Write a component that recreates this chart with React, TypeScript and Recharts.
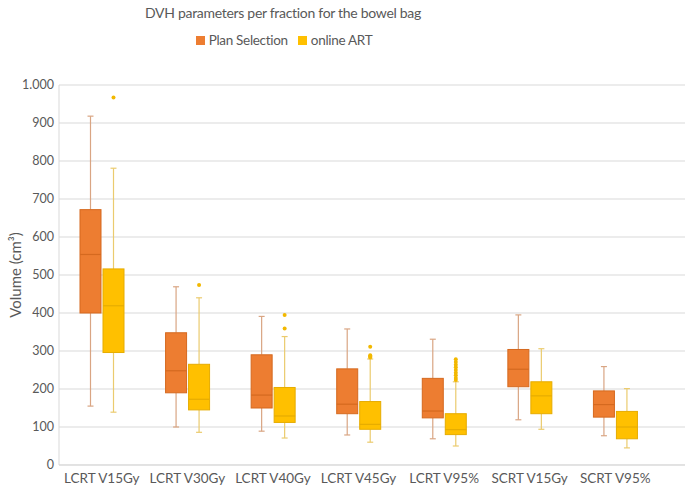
import { Bar, CartesianGrid, ComposedChart, Legend, XAxis, YAxis } from "recharts";

const categories = [
  "LCRT V15Gy",
  "LCRT V30Gy",
  "LCRT V40Gy",
  "LCRT V45Gy",
  "LCRT V95%",
  "SCRT V15Gy",
  "SCRT V95%",
];

// Plan Selection
const psMin = [155, 100, 89, 79, 69, 119, 77];
const psQ1 = [400, 190, 150, 135, 124, 206, 126];
const psMedian = [554, 248, 184, 160, 142, 252, 159];
const psQ3 = [672, 348, 290, 253, 228, 304, 195];
const psMax = [918, 469, 391, 358, 331, 395, 259];
const psOutliers: number[][] = [[], [], [], [], [], [], []];

// online ART
const artMin = [139, 86, 71, 60, 50, 94, 45];
const artQ1 = [296, 145, 112, 94, 80, 135, 69];
const artMedian = [419, 173, 129, 107, 93, 182, 100];
const artQ3 = [516, 265, 204, 167, 135, 219, 141];
const artMax = [781, 440, 338, 279, 219, 306, 201];
const artOutliers: number[][] = [
  [967],
  [474],
  [395, 359],
  [311, 289, 286, 283],
  [278, 271, 264, 257, 250, 243, 236, 229, 224],
  [],
  [],
];

const yTicks = [0, 100, 200, 300, 400, 500, 600, 700, 800, 900, 1000];

const data = categories.map((name, i) => ({
  name,
  ps: [psMin[i], psMax[i]],
  psQ1: psQ1[i],
  psMedian: psMedian[i],
  psQ3: psQ3[i],
  psOutliers: psOutliers[i],
  art: [artMin[i], artMax[i]],
  artQ1: artQ1[i],
  artMedian: artMedian[i],
  artQ3: artQ3[i],
  artOutliers: artOutliers[i],
}));

const FONT = "Lato, 'Open Sans', sans-serif";
const TEXT = "#595959";
const GRID = "#d9d9d9";

type BoxColors = { fill: string; stroke: string; whisker: string; dot: string };

const psColors: BoxColors = { fill: "#ED7D31", stroke: "#D5691F", whisker: "#D9A583", dot: "#ED7D31" };
const artColors: BoxColors = { fill: "#FFC000", stroke: "#E6AC00", whisker: "#EBCB6E", dot: "#F2B800" };

// the bar is a range [min, max]; the rest is placed on the same linear scale
function makeBox(key: "ps" | "art", c: BoxColors) {
  return (props: any) => {
    const { x, y, width, height, payload } = props;
    const [lo, hi] = payload[key];
    const k = height / (hi - lo);
    const py = (v: number) => y + (hi - v) * k;
    const cx = x + width / 2;
    const q1 = py(payload[key + "Q1"]);
    const q3 = py(payload[key + "Q3"]);
    const med = py(payload[key + "Median"]);
    const cap = 3;
    return (
      <g>
        <line x1={cx} x2={cx} y1={y} y2={q3} stroke={c.whisker} strokeWidth={1.2} />
        <line x1={cx} x2={cx} y1={q1} y2={y + height} stroke={c.whisker} strokeWidth={1.2} />
        <line x1={cx - cap} x2={cx + cap} y1={y} y2={y} stroke={c.whisker} strokeWidth={1.2} />
        <line x1={cx - cap} x2={cx + cap} y1={y + height} y2={y + height} stroke={c.whisker} strokeWidth={1.2} />
        <rect x={x} y={q3} width={width} height={q1 - q3} fill={c.fill} stroke={c.stroke} strokeWidth={1} />
        <line x1={x} x2={x + width} y1={med} y2={med} stroke={c.stroke} strokeWidth={1.2} />
        {(payload[key + "Outliers"] as number[]).map((v, i) => (
          <circle key={i} cx={cx} cy={py(v)} r={2} fill={c.dot} />
        ))}
      </g>
    );
  };
}

const formatTick = (v: number) => (v >= 1000 ? v.toLocaleString("de-DE") : String(v));

export default function App() {
  return (
    <div style={{ position: "absolute", left: 0, top: 0, width: 685, height: 491, background: "#fff", fontFamily: FONT }}>
      <div
        style={{
          position: "absolute",
          left: 0,
          top: 4,
          width: 566,
          textAlign: "center",
          fontSize: 14,
          letterSpacing: -0.3,
          color: TEXT,
        }}
      >
        DVH parameters per fraction for the bowel bag
      </div>
      <ComposedChart
        width={685}
        height={491}
        data={data}
        margin={{ top: 66, right: 0, bottom: 0, left: 0 }}
        barSize={21}
        barGap={2}
      >
        <CartesianGrid stroke={GRID} vertical={false} />
        <XAxis
          dataKey="name"
          padding={{ left: 0, right: 27 }}
          height={26}
          stroke={GRID}
          tickLine={false}
          tick={{ fill: TEXT, fontSize: 13.5, fontFamily: FONT }}
          interval={0}
        />
        <YAxis
          domain={[0, 1000]}
          ticks={yTicks}
          width={59}
          stroke={GRID}
          tickLine={false}
          tickSize={3}
          tickFormatter={formatTick}
          tick={{ fill: TEXT, fontSize: 12.5, fontFamily: FONT }}
          label={{
            value: "Volume (cm³)",
            angle: -90,
            position: "insideLeft",
            offset: 16,
            style: { textAnchor: "middle", fill: TEXT, fontSize: 15, fontFamily: FONT },
          }}
        />
        <Legend
          verticalAlign="top"
          iconType="square"
          iconSize={9}
          wrapperStyle={{ top: 29, left: 0, width: 578, letterSpacing: -0.3 }}
          formatter={(value) => <span style={{ color: TEXT, fontSize: 13.5, fontFamily: FONT }}>{value}</span>}
        />
        <Bar
          dataKey="ps"
          name="Plan Selection"
          fill={psColors.fill}
          shape={makeBox("ps", psColors)}
          isAnimationActive={false}
        />
        <Bar
          dataKey="art"
          name="online ART"
          fill={artColors.fill}
          shape={makeBox("art", artColors)}
          isAnimationActive={false}
        />
      </ComposedChart>
    </div>
  );
}
